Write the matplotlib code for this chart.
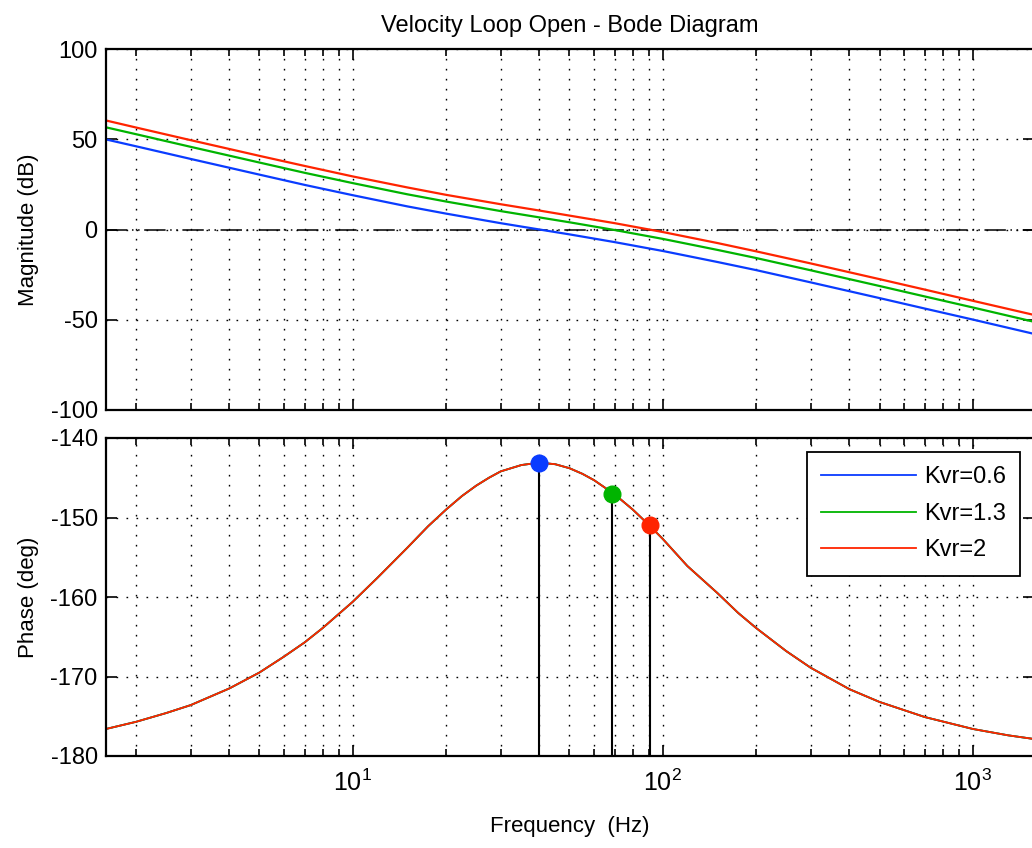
#!/usr/bin/env python3
"""Velocity loop open-loop Bode diagram for three proportional gains Kvr."""
import matplotlib
matplotlib.use("Agg")
import matplotlib.pyplot as plt  # noqa: E402
from matplotlib.ticker import LogLocator, NullFormatter  # noqa: E402

plt.rcParams["font.family"] = ["Liberation Sans", "DejaVu Sans"]
plt.rcParams["mathtext.fontset"] = "custom"
plt.rcParams["mathtext.rm"] = "Liberation Sans"
plt.rcParams["axes.unicode_minus"] = False

freq = [1.6, 2, 3, 5, 7, 10, 15, 20, 30, 40, 50, 70, 100, 150, 200, 300, 500, 700, 1000, 1600]
mag_06 = [49.9, 46.1, 39.1, 30.4, 24.7, 19.0, 12.8, 8.8, 3.5, 0.0, -2.7, -7.0, -11.9, -18.0,
          -22.5, -29.3, -38.0, -43.8, -49.9, -58.1]
mag_13 = [56.6, 52.8, 45.8, 37.1, 31.4, 25.7, 19.5, 15.5, 10.2, 6.7, 4.0, -0.3, -5.2, -11.3,
          -15.8, -22.6, -31.3, -37.1, -43.2, -51.4]
mag_20 = [60.4, 56.5, 49.5, 40.8, 35.2, 29.4, 23.3, 19.2, 14.0, 10.5, 7.7, 3.5, -1.4, -7.5,
          -12.1, -18.8, -27.5, -33.3, -39.5, -47.6]

freq_ph = [1.6, 2, 2.5, 3, 4, 5, 6, 7, 8, 10, 12, 15, 17.5, 20, 22.5, 25, 27.5, 30, 35, 40,
           45, 50, 55, 60, 70, 80, 90, 100, 120, 150, 175, 200, 250, 300, 400, 500, 700,
           1000, 1300, 1600]
phase = [-176.6, -175.7, -174.6, -173.6, -171.5, -169.5, -167.5, -165.7, -163.9, -160.6,
         -157.6, -153.8, -151.1, -149.0, -147.3, -146.0, -145.0, -144.2, -143.4, -143.1,
         -143.3, -143.8, -144.5, -145.3, -147.1, -149.0, -150.9, -152.7, -156.1, -159.5,
         -162.0, -163.9, -166.8, -168.9, -171.6, -173.2, -175.1, -176.6, -177.4, -177.9]

# gain crossover points (frequency, phase at crossover)
cross_f = [39.8, 68.7, 90.8]
cross_ph = [-143.1, -147.0, -150.9]

labels = ["Kvr=0.6", "Kvr=1.3", "Kvr=2"]
colors = ["#0a3cff", "#00b400", "#ff2400"]
mags = [mag_06, mag_13, mag_20]

W, H = 1032, 848
fig = plt.figure(figsize=(W / 100, H / 100), dpi=100)
left, right = 106, 1034
ax1 = fig.add_axes([left / W, 1 - 410 / H, (right - left) / W, (410 - 49) / H])
ax2 = fig.add_axes([left / W, 1 - 756 / H, (right - left) / W, (756 - 438) / H])

dashdotdot = (0, (14, 3, 1, 3, 1, 3))
grid_dots = (0, (1.2, 6))

for m, c, lab in zip(mags, colors, labels):
    ax1.plot(freq, m, color=c, lw=1.6, label=lab)
ax1.axhline(0, color="black", lw=1.1, ls=dashdotdot, zorder=1)

for c, lab in zip(colors, labels):
    ax2.plot(freq_ph, phase, color=c, lw=1.3, label=lab)
ax2.axhline(-180, color="black", lw=1.1, ls=dashdotdot, zorder=1)
for f, p, c in zip(cross_f, cross_ph, colors):
    ax2.plot([f, f], [-180, p], color="black", lw=1.5, zorder=3)
    ax2.plot(f, p, "o", color=c, ms=12, mec=c, zorder=4)

ax1.set_ylim(-100, 100)
ax1.set_yticks([-100, -50, 0, 50, 100])
ax2.set_ylim(-180, -140)
ax2.set_yticks([-180, -170, -160, -150, -140])

for ax in (ax1, ax2):
    ax.set_xscale("log")
    ax.set_xlim(1.6, 1575)
    ax.xaxis.set_major_locator(LogLocator(base=10))
    ax.xaxis.set_minor_locator(LogLocator(base=10, subs=range(2, 10)))
    ax.xaxis.set_minor_formatter(NullFormatter())
    ax.grid(True, which="major", color="black", ls=grid_dots, lw=1.0)
    ax.grid(True, which="minor", axis="x", color="black", ls=grid_dots, lw=1.0)
    ax.tick_params(which="both", direction="in", top=True, right=True, labelsize=17,
                   width=1.2)
    ax.tick_params(which="major", length=8)
    ax.tick_params(which="minor", length=5)
    for s in ax.spines.values():
        s.set_linewidth(1.6)

ax1.tick_params(axis="x", which="both", labelbottom=False)
ax1.tick_params(axis="y", pad=6)
ax2.tick_params(axis="y", pad=6)
ax2.tick_params(axis="x", pad=10, labelsize=18)

ax1.set_title("Velocity Loop Open - Bode Diagram", fontsize=17, pad=12)
ax1.set_ylabel("Magnitude (dB)", fontsize=16, labelpad=8)
ax2.set_ylabel("Phase (deg)", fontsize=16, labelpad=8)
ax2.set_xlabel("Frequency  (Hz)", fontsize=16, labelpad=14)

leg = ax2.legend(loc="upper right", bbox_to_anchor=(0.985, 0.956), fontsize=17,
                 fancybox=False, framealpha=1, edgecolor="black", handlelength=4.0,
                 handletextpad=0.35, borderaxespad=0, borderpad=0.6, labelspacing=0.62)
leg.get_frame().set_linewidth(1.3)

fig.savefig("out.png", dpi=100)
